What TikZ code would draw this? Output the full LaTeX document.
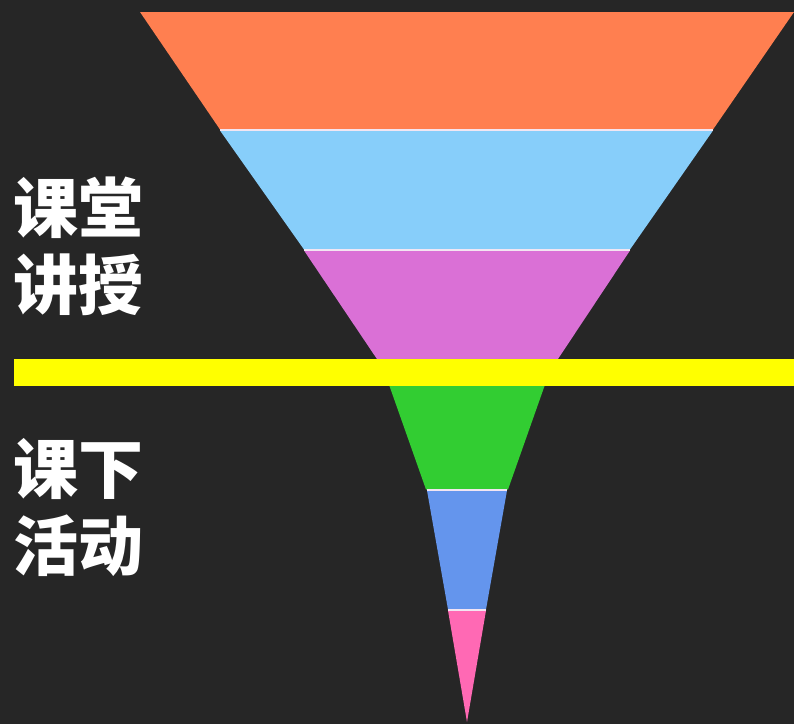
\documentclass[tikz,border=0pt]{standalone}
\usepackage{fontspec}
\usepackage{tikz}
\newfontfamily\cjk{Noto Sans CJK SC}
\definecolor{sfondo}{HTML}{262626}
\definecolor{arancio}{HTML}{FF7F50}
\definecolor{celeste}{HTML}{87CEFA}
\definecolor{orchidea}{HTML}{DA70D6}
\definecolor{verde}{HTML}{32CD32}
\definecolor{blu}{HTML}{6495ED}
\definecolor{rosa}{HTML}{FF69B4}
\definecolor{giallo}{HTML}{FFFF00}

\begin{document}
\begin{tikzpicture}[x=1pt, y=-1pt,
    fascia/.style={draw=white!90!violet, line width=1.2pt, line join=miter},
    etichetta/.style={anchor=west, inner sep=0pt, align=left, text=white,
        font=\cjk\bfseries\fontsize{65}{77}\selectfont}]
            % Sfondo
            \fill[sfondo] (0,0) rectangle (794,724);
            \useasboundingbox (0,0) rectangle (794,724);

            % Imbuto
            \fill[arancio] (140,12) -- (794,12) -- (713,129.5) -- (220,129.5) -- cycle;
            \fill[celeste] (220,130.5) -- (713,130.5) -- (630,249.5) -- (304,249.5) -- cycle;
            \fill[orchidea] (304,250.5) -- (630,250.5) -- (551,369.5) -- (384,369.5) -- cycle;
            \fill[verde] (384,370.5) -- (550,370.5) -- (508,489.5) -- (426,489.5) -- cycle;
            \fill[blu] (427,490.5) -- (507,490.5) -- (486,609.5) -- (448,609.5) -- cycle;
            \fill[rosa] (448,610.5) -- (486,610.5) -- (467,722) -- cycle;

            % Linee di separazione
            \draw[fascia] (220,130) -- (713,130);
            \draw[fascia] (304,250) -- (630,250);
            \draw[fascia] (427,490) -- (507,490);
            \draw[fascia] (448,610) -- (486,610);

            % Barra gialla
            \fill[giallo] (14,359) rectangle (794,386);

            \node[etichetta] (aula) at (13,246) {课堂\\讲授};
            \node[etichetta] (casa) at (13,507) {课下\\活动};
        \end{tikzpicture}
\end{document}
